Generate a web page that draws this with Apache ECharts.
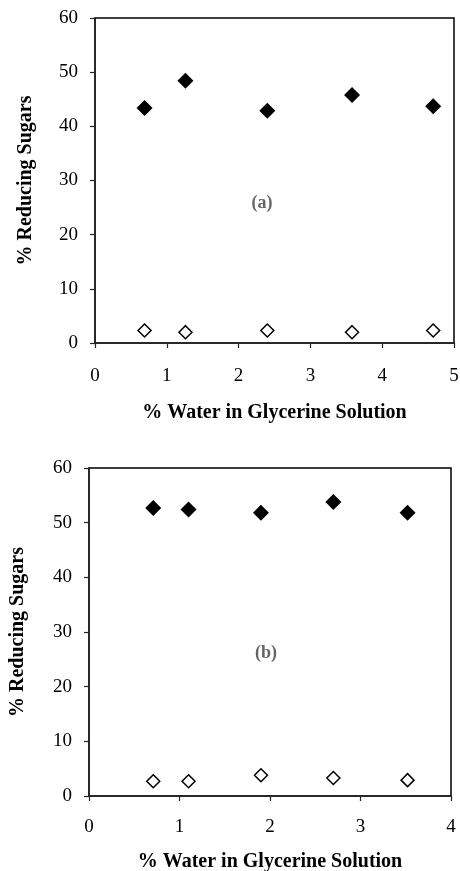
<!DOCTYPE html>
<html>
<head>
<meta charset="utf-8">
<script src="https://cdn.jsdelivr.net/npm/echarts@6/dist/echarts.min.js"></script>
<style>
  html, body { margin: 0; padding: 0; background: #fff; }
  #chart { width: 460px; height: 871px; }
</style>
</head>
<body>
<div id="chart"></div>
<script>
// panel (a)
var waterA = [0.69, 1.26, 2.40, 3.58, 4.71];
var filledA = [43.4, 48.4, 42.9, 45.8, 43.7];
var openA = [2.3, 2.0, 2.3, 2.0, 2.3];
// panel (b)
var waterB = [0.71, 1.10, 1.90, 2.70, 3.52];
var filledB = [52.7, 52.4, 51.8, 53.8, 51.8];
var openB = [2.7, 2.7, 3.8, 3.3, 2.9];

var xTitle = '% Water in Glycerine Solution';
var yTitle = '% Reducing Sugars';

function pairs(xs, ys) {
    var out = [];
    for (var i = 0; i < xs.length; i++) out.push([xs[i], ys[i]]);
    return out;
}

var font = 'Liberation Serif';
var axisCommon = {
    axisLine: { show: true, lineStyle: { color: '#222', width: 1.5 } },
    axisTick: { show: true, inside: false, length: 5, lineStyle: { color: '#222', width: 1.2 } },
    splitLine: { show: false },
    nameLocation: 'middle',
    nameTextStyle: { fontFamily: font, fontWeight: 'bold', fontSize: 20, color: '#000' }
};

function xAxisFor(idx, max, gap, margin) {
    return Object.assign({}, axisCommon, {
        type: 'value', gridIndex: idx, min: 0, max: max, interval: 1,
        name: xTitle, nameGap: gap,
        axisLabel: { margin: margin, fontFamily: font, fontSize: 19, color: '#000' }
    });
}
function yAxisFor(idx, gap, margin) {
    return Object.assign({}, axisCommon, {
        type: 'value', gridIndex: idx, min: 0, max: 60, interval: 10,
        name: yTitle, nameGap: gap, nameRotate: 90,
        axisLabel: { margin: margin, fontFamily: font, fontSize: 19, color: '#000' }
    });
}

function filled(name, idx, data) {
    return { name: name, type: 'scatter', xAxisIndex: idx, yAxisIndex: idx,
        data: data, symbol: 'diamond', symbolSize: 16,
        itemStyle: { color: '#000', opacity: 1 } };
}
function hollow(name, idx, data) {
    return { name: name, type: 'scatter', xAxisIndex: idx, yAxisIndex: idx,
        data: data, symbol: 'diamond', symbolSize: 13,
        itemStyle: { color: '#fff', borderColor: '#000', borderWidth: 1.5, opacity: 1 } };
}

var myChart = echarts.init(document.getElementById('chart'));
var option = {
    backgroundColor: '#fff',
    animation: false,
    grid: [
        { left: 95, top: 18, width: 359, height: 325, outerBoundsMode: 'none', containLabel: false,
          show: true, borderColor: '#000', borderWidth: 1.5 },
        { left: 89, top: 468, width: 362, height: 328, outerBoundsMode: 'none', containLabel: false,
          show: true, borderColor: '#000', borderWidth: 1.5 }
    ],
    xAxis: [xAxisFor(0, 5, 60, 24), xAxisFor(1, 4, 56, 22)],
    yAxis: [yAxisFor(0, 59, 17), yAxisFor(1, 61, 17)],
    graphic: [
        { type: 'text', x: 262, y: 203,
          style: { text: '(a)', align: 'center', verticalAlign: 'middle',
                   font: 'bold 18px "Liberation Serif"', fill: '#666' } },
        { type: 'text', x: 266, y: 653,
          style: { text: '(b)', align: 'center', verticalAlign: 'middle',
                   font: 'bold 18px "Liberation Serif"', fill: '#666' } }
    ],
    series: [
        filled('a filled', 0, pairs(waterA, filledA)),
        hollow('a open', 0, pairs(waterA, openA)),
        filled('b filled', 1, pairs(waterB, filledB)),
        hollow('b open', 1, pairs(waterB, openB))
    ]
};
myChart.setOption(option);
</script>
</body>
</html>
